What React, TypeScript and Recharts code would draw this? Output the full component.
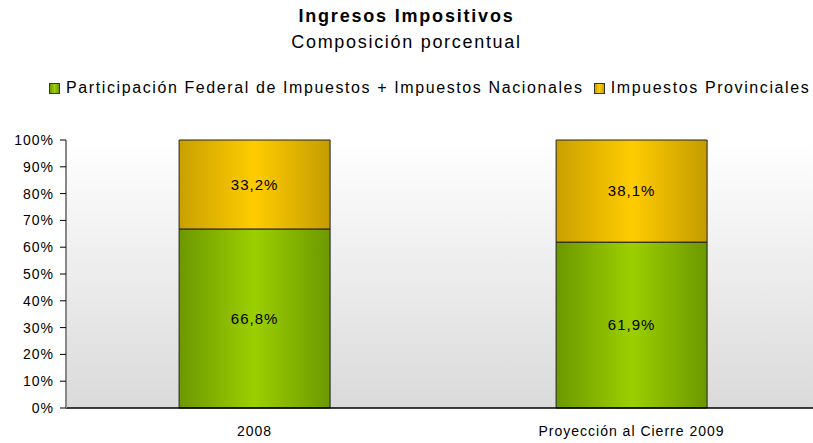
import { BarChart, Bar, XAxis, YAxis, CartesianGrid, LabelList } from 'recharts';

const categories = ['2008', 'Proyección al Cierre 2009'];
const federal = [66.8, 61.9];
const provincial = [33.2, 38.1];
const yTicks = [0, 10, 20, 30, 40, 50, 60, 70, 80, 90, 100];

const FONT = '"Liberation Sans", Arial, sans-serif';

const data = categories.map((name, i) => ({
  name,
  federal: federal[i],
  provincial: provincial[i],
}));

const fmt = (v: number) => v.toFixed(1).replace('.', ',') + '%';

function LegendItem({ from, to, label }: { from: string; to: string; label: string }) {
  return (
    <div style={{ display: 'flex', alignItems: 'center', gap: 6 }}>
      <span
        style={{
          width: 9,
          height: 9,
          border: '1px solid #333',
          background: `linear-gradient(to right, ${from}, ${to}, ${from})`,
        }}
      />
      <span>{label}</span>
    </div>
  );
}

export default function App() {
  return (
    <div
      style={{
        position: 'absolute',
        left: 0,
        top: 0,
        width: 813,
        height: 443,
        overflow: 'hidden',
        background: '#fff',
        fontFamily: FONT,
        color: '#000',
      }}
    >
      <div style={{ position: 'absolute', top: 6, left: 0, width: 813, textAlign: 'center', fontSize: 18, fontWeight: 'bold', letterSpacing: 1.8 }}>
        Ingresos Impositivos
      </div>
      <div style={{ position: 'absolute', top: 32, left: 0, width: 813, textAlign: 'center', fontSize: 18, letterSpacing: 1.7 }}>
        Composición porcentual
      </div>
      <div
        style={{
          position: 'absolute',
          top: 79,
          left: 49,
          display: 'flex',
          gap: 10,
          fontSize: 16,
          letterSpacing: 1.6,
          whiteSpace: 'nowrap',
        }}
      >
        <LegendItem from="#6f9b00" to="#9fd000" label="Participación Federal de Impuestos + Impuestos Nacionales" />
        <LegendItem from="#c9a000" to="#ffcc00" label="Impuestos Provinciales" />
      </div>

      <div style={{ position: 'absolute', left: 0, top: 0 }}>
        <BarChart
          width={822}
          height={443}
          data={data}
          margin={{ top: 140, right: 2, left: 0, bottom: 5 }}
          barCategoryGap="30%"
        >
          <defs>
            <linearGradient id="bgGrad" x1="0" y1="0" x2="0" y2="1">
              <stop offset="0%" stopColor="#ffffff" />
              <stop offset="100%" stopColor="#dadada" />
            </linearGradient>
            <linearGradient id="greenGrad" x1="0" y1="0" x2="1" y2="0">
              <stop offset="0%" stopColor="#6c9800" />
              <stop offset="50%" stopColor="#9ccf00" />
              <stop offset="100%" stopColor="#6c9800" />
            </linearGradient>
            <linearGradient id="yellowGrad" x1="0" y1="0" x2="1" y2="0">
              <stop offset="0%" stopColor="#c9a000" />
              <stop offset="50%" stopColor="#ffcc00" />
              <stop offset="100%" stopColor="#c49c00" />
            </linearGradient>
          </defs>
          <CartesianGrid horizontal={false} vertical={false} fill="url(#bgGrad)" />
          <XAxis
            dataKey="name"
            height={30}
            tick={{ fill: '#000', fontSize: 14, fontFamily: FONT, letterSpacing: 1 }}
            tickLine={false}
            axisLine={{ stroke: '#000', strokeWidth: 1.5 }}
            tickMargin={12}
          />
          <YAxis
            type="number"
            domain={[0, 100]}
            ticks={yTicks}
            interval={0}
            width={66}
            tickFormatter={(v: number) => `${v}%`}
            tick={{ fill: '#000', fontSize: 14, fontFamily: FONT, letterSpacing: 1 }}
            tickLine={{ stroke: '#000' }}
            tickSize={6}
            tickMargin={6}
            axisLine={{ stroke: '#888', strokeWidth: 2 }}
          />
          <Bar dataKey="federal" stackId="a" fill="url(#greenGrad)" stroke="#222" strokeWidth={1} isAnimationActive={false}>
            <LabelList
              dataKey="federal"
              position="center"
              formatter={(v: number) => fmt(v)}
              style={{ fill: '#000', fontSize: 15, fontFamily: FONT, letterSpacing: 1 }}
            />
          </Bar>
          <Bar dataKey="provincial" stackId="a" fill="url(#yellowGrad)" stroke="#222" strokeWidth={1} isAnimationActive={false}>
            <LabelList
              dataKey="provincial"
              position="center"
              formatter={(v: number) => fmt(v)}
              style={{ fill: '#000', fontSize: 15, fontFamily: FONT, letterSpacing: 1 }}
            />
          </Bar>
        </BarChart>
      </div>
    </div>
  );
}
